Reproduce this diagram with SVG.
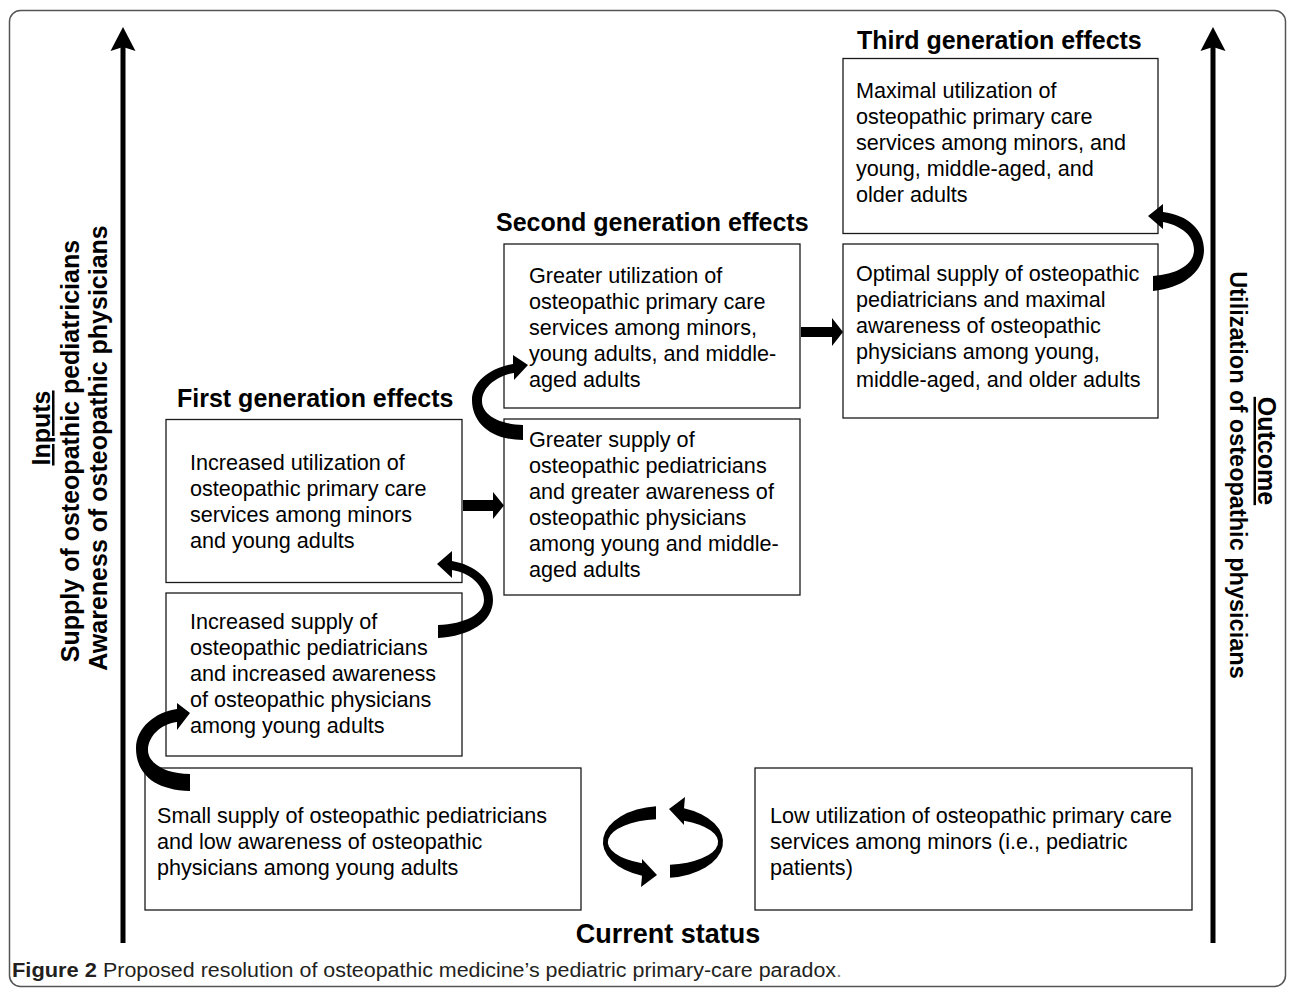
<svg xmlns="http://www.w3.org/2000/svg" width="1290" height="992" viewBox="0 0 1290 992">
<style>
.box{fill:#fff;stroke:#1a1a1a;stroke-width:1.3}
.t{font-family:"Liberation Sans",Arial,sans-serif;font-size:21.6px;fill:#000}
.h{font-family:"Liberation Sans",Arial,sans-serif;font-size:25px;font-weight:bold;fill:#000}
.ax{font-family:"Liberation Sans",Arial,sans-serif;font-size:25px;font-weight:bold;fill:#000}
.arr{fill:#000;stroke:none}
.cap{font-family:"Liberation Sans Narrow","Liberation Sans",Arial,sans-serif;font-size:20px;fill:#231f20}
</style>
<rect width="1290" height="992" fill="#fff"/>
<rect x="9.5" y="10.5" width="1276" height="976" rx="11" fill="none" stroke="#555" stroke-width="1.5"/>

<g id="label-inputs">
  <text class="ax" transform="translate(50,428) rotate(-90)" text-anchor="middle" text-decoration="underline">Inputs</text>
  <text class="ax" transform="translate(79,451) rotate(-90)" text-anchor="middle">Supply of osteopathic pediatricians</text>
  <text class="ax" transform="translate(107,448) rotate(-90)" text-anchor="middle">Awareness of osteopathic physicians</text>
</g>
<g id="label-outcome">
  <text class="ax" transform="translate(1258,451) rotate(90)" text-anchor="middle" text-decoration="underline">Outcome</text>
  <text class="ax" transform="translate(1230,475) rotate(90)" text-anchor="middle" style="font-size:23.5px">Utilization of osteopathic physicians</text>
</g>

<g id="heading-third"><text class="h" x="857" y="49">Third generation effects</text></g>
<g id="heading-second"><text class="h" x="496" y="231">Second generation effects</text></g>
<g id="heading-first"><text class="h" x="177" y="407">First generation effects</text></g>
<g id="heading-current"><text class="h" x="668" y="943" text-anchor="middle" style="font-size:27px">Current status</text></g>

<g id="box-third-utilization">
  <rect class="box" x="843" y="58.5" width="315" height="175"/>
  <text class="t" x="856" y="98">Maximal utilization of</text>
  <text class="t" x="856" y="124">osteopathic primary care</text>
  <text class="t" x="856" y="150">services among minors, and</text>
  <text class="t" x="856" y="176">young, middle-aged, and</text>
  <text class="t" x="856" y="202">older adults</text>
</g>
<g id="box-third-supply">
  <rect class="box" x="843" y="244" width="315" height="174"/>
  <text class="t" x="856" y="281">Optimal supply of osteopathic</text>
  <text class="t" x="856" y="307">pediatricians and maximal</text>
  <text class="t" x="856" y="333">awareness of osteopathic</text>
  <text class="t" x="856" y="359">physicians among young,</text>
  <text class="t" x="856" y="387">middle-aged, and older adults</text>
</g>
<g id="box-second-utilization">
  <rect class="box" x="504" y="244" width="296" height="164"/>
  <text class="t" x="529" y="283">Greater utilization of</text>
  <text class="t" x="529" y="309">osteopathic primary care</text>
  <text class="t" x="529" y="335">services among minors,</text>
  <text class="t" x="529" y="361">young adults, and middle-</text>
  <text class="t" x="529" y="387">aged adults</text>
</g>
<g id="box-second-supply">
  <rect class="box" x="504" y="419" width="296" height="176"/>
  <text class="t" x="529" y="447">Greater supply of</text>
  <text class="t" x="529" y="473">osteopathic pediatricians</text>
  <text class="t" x="529" y="499">and greater awareness of</text>
  <text class="t" x="529" y="525">osteopathic physicians</text>
  <text class="t" x="529" y="551">among young and middle-</text>
  <text class="t" x="529" y="577">aged adults</text>
</g>
<g id="box-first-utilization">
  <rect class="box" x="166" y="419.5" width="296" height="163"/>
  <text class="t" x="190" y="470">Increased utilization of</text>
  <text class="t" x="190" y="496">osteopathic primary care</text>
  <text class="t" x="190" y="522">services among minors</text>
  <text class="t" x="190" y="548">and young adults</text>
</g>
<g id="box-first-supply">
  <rect class="box" x="166" y="593" width="296" height="163"/>
  <text class="t" x="190" y="629">Increased supply of</text>
  <text class="t" x="190" y="655">osteopathic pediatricians</text>
  <text class="t" x="190" y="681">and increased awareness</text>
  <text class="t" x="190" y="707">of osteopathic physicians</text>
  <text class="t" x="190" y="733">among young adults</text>
</g>
<g id="box-current-supply">
  <rect class="box" x="145" y="768" width="436" height="142"/>
  <text class="t" x="157" y="823">Small supply of osteopathic pediatricians</text>
  <text class="t" x="157" y="849">and low awareness of osteopathic</text>
  <text class="t" x="157" y="875">physicians among young adults</text>
</g>
<g id="box-current-utilization">
  <rect class="box" x="755" y="768" width="437" height="142"/>
  <text class="t" x="770" y="823">Low utilization of osteopathic primary care</text>
  <text class="t" x="770" y="849">services among minors (i.e., pediatric</text>
  <text class="t" x="770" y="875">patients)</text>
</g>

<g id="connectors">
  <line x1="123" y1="45" x2="123" y2="943" stroke="#000" stroke-width="5"/>
  <polygon class="arr" points="123,27 135.5,51 123,47 110.5,51"/>
  <line x1="1213" y1="45" x2="1213" y2="943" stroke="#000" stroke-width="5"/>
  <polygon class="arr" points="1213,27 1225.5,51 1213,47 1200.5,51"/>
  <polygon class="arr" points="463,500 493,500 493,492 504,505.5 493,519 493,511 463,511"/>
  <polygon class="arr" points="801,327 832,327 832,318 843,332 832,346 832,337 801,337"/>
  <path class="arr" d="M190,791 C150,790 136,770 136,748 C136,728 155,712 177,709 L177,703 L190,713 L177,730 L177,722 C160,724 148,737 148,750 C148,763 165,774 190,774 Z"/>
  <path class="arr" d="M438,638 C470,636 493,622 493,600 C493,580 475,565 452,561 L452,551 L437,564 L452,578 L452,570 C470,573 484,585 484,600 C484,614 465,624 438,625 Z"/>
  <path class="arr" d="M523,440 C490,440 472,422 472,400 C472,382 490,368 513,364 L513,355 L528,365 L514,380 L514,373 C496,376 482,388 482,401 C482,414 497,424 523,425 Z"/>
  <path class="arr" d="M1153,291 C1185,288 1204,270 1204,250 C1204,230 1188,215 1163,212 L1163,204 L1148,216 L1163,229 L1163,222 C1182,226 1194,236 1194,250 C1194,264 1178,274 1153,276 Z"/>
  <path class="arr" d="M670,877.8 A60,36 0 0 0 684,808.3 L685,797 L669,809 L684,825 L684,820.7 A55,23 0 0 1 670,864.8 Z"/>
  <path class="arr" d="M656,806.2 A60,36 0 0 0 642,875.7 L641,887 L657,875 L642,859 L642,863.3 A55,23 0 0 1 656,819.2 Z"/>
</g>

<g id="caption">
  <text class="cap" x="12" y="977" font-weight="bold" textLength="85" lengthAdjust="spacingAndGlyphs">Figure 2</text>
  <text class="cap" x="103" y="977" textLength="739" lengthAdjust="spacingAndGlyphs">Proposed resolution of osteopathic medicine’s pediatric primary-care paradox<tspan fill="#888">.</tspan></text>
</g>
</svg>
